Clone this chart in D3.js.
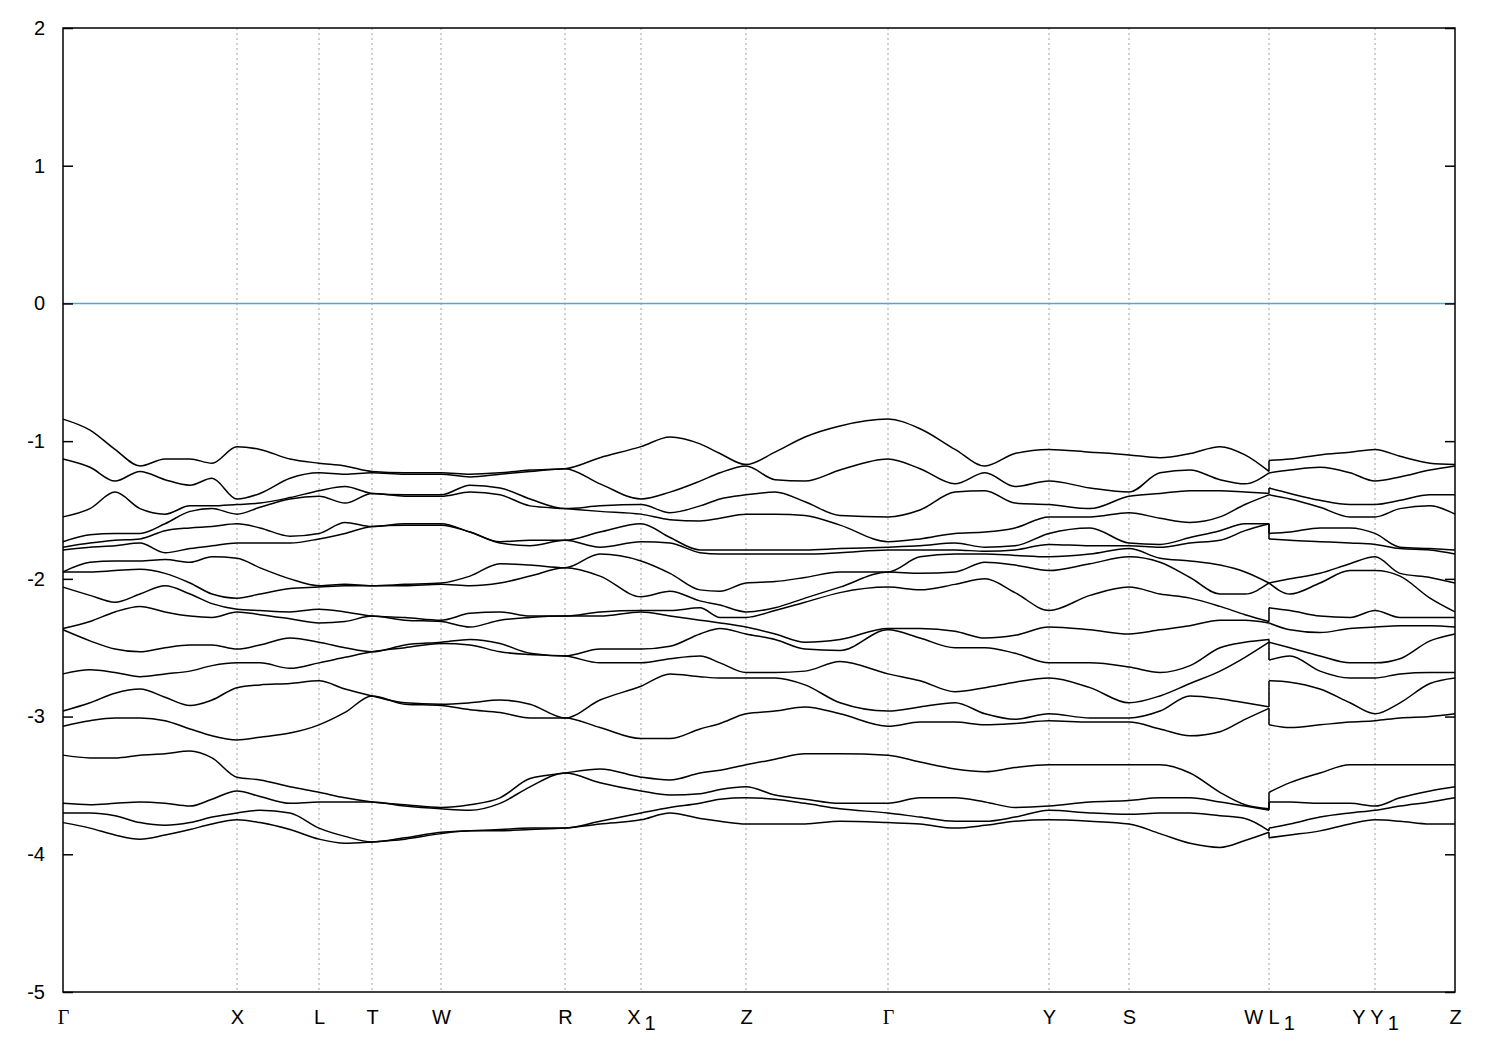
<!DOCTYPE html>
<html><head><meta charset="utf-8">
<script src="https://cdn.jsdelivr.net/npm/d3@7"></script>
<style>body{margin:0;background:#fff} svg{display:block}</style>
</head><body>
<svg id="chart" width="1500" height="1050"></svg>
<script>
// k-path coordinate of each sampled point (two entries at W|L1: discontinuity)
const kPoints = [0, 0.027, 0.052, 0.077, 0.102, 0.127, 0.149, 0.174, 0.197, 0.227, 0.256, 0.282, 0.309, 0.342, 0.378, 0.407, 0.437, 0.467, 0.502, 0.537, 0.578, 0.607, 0.637, 0.657, 0.683, 0.712, 0.742, 0.777, 0.825, 0.857, 0.892, 0.922, 0.952, 0.986, 1.027, 1.066, 1.097, 1.127, 1.157, 1.182, 1.206, 1.206, 1.227, 1.257, 1.287, 1.312, 1.337, 1.367, 1.392];

// band energies (eV), one row per k point, 18 bands per row
const levels = [
[-0.84,-1.13,-1.55,-1.73,-1.77,-1.79,-1.95,-1.95,-2.06,-2.36,-2.37,-2.69,-2.96,-3.07,-3.28,-3.63,-3.70,-3.77],
[-0.92,-1.19,-1.49,-1.68,-1.74,-1.77,-1.88,-1.95,-2.12,-2.31,-2.45,-2.66,-2.90,-3.03,-3.30,-3.64,-3.70,-3.81],
[-1.06,-1.29,-1.37,-1.67,-1.72,-1.76,-1.87,-1.94,-2.17,-2.24,-2.51,-2.68,-2.83,-3.01,-3.30,-3.63,-3.72,-3.86],
[-1.18,-1.22,-1.49,-1.67,-1.71,-1.74,-1.87,-1.93,-2.11,-2.20,-2.53,-2.71,-2.80,-3.01,-3.28,-3.62,-3.77,-3.89],
[-1.13,-1.28,-1.53,-1.60,-1.65,-1.81,-1.86,-1.96,-2.05,-2.24,-2.50,-2.69,-2.86,-3.03,-3.27,-3.63,-3.79,-3.86],
[-1.13,-1.32,-1.47,-1.51,-1.63,-1.78,-1.88,-2.03,-2.11,-2.27,-2.48,-2.67,-2.92,-3.09,-3.25,-3.65,-3.77,-3.82],
[-1.16,-1.27,-1.47,-1.49,-1.62,-1.76,-1.84,-2.11,-2.18,-2.28,-2.48,-2.63,-2.88,-3.14,-3.30,-3.60,-3.73,-3.78],
[-1.04,-1.42,-1.46,-1.53,-1.60,-1.74,-1.85,-2.14,-2.22,-2.24,-2.51,-2.61,-2.79,-3.17,-3.44,-3.54,-3.70,-3.75],
[-1.06,-1.38,-1.45,-1.48,-1.63,-1.74,-1.92,-2.11,-2.23,-2.26,-2.48,-2.61,-2.77,-3.15,-3.46,-3.58,-3.68,-3.77],
[-1.13,-1.27,-1.41,-1.42,-1.69,-1.74,-2.00,-2.07,-2.24,-2.29,-2.43,-2.65,-2.76,-3.12,-3.51,-3.63,-3.70,-3.82],
[-1.16,-1.23,-1.36,-1.40,-1.67,-1.71,-2.05,-2.06,-2.22,-2.32,-2.46,-2.61,-2.74,-3.06,-3.55,-3.62,-3.81,-3.89],
[-1.18,-1.24,-1.33,-1.45,-1.59,-1.67,-2.04,-2.05,-2.24,-2.31,-2.50,-2.57,-2.80,-2.97,-3.59,-3.62,-3.87,-3.92],
[-1.22,-1.23,-1.38,-1.38,-1.62,-1.62,-2.05,-2.05,-2.27,-2.27,-2.53,-2.53,-2.85,-2.85,-3.62,-3.62,-3.91,-3.91],
[-1.23,-1.24,-1.39,-1.40,-1.60,-1.61,-2.04,-2.05,-2.28,-2.30,-2.48,-2.50,-2.90,-2.91,-3.64,-3.65,-3.88,-3.89],
[-1.23,-1.24,-1.39,-1.40,-1.60,-1.61,-2.03,-2.04,-2.30,-2.31,-2.46,-2.47,-2.91,-2.92,-3.66,-3.67,-3.84,-3.85],
[-1.24,-1.26,-1.32,-1.37,-1.66,-1.66,-1.98,-2.05,-2.25,-2.35,-2.44,-2.48,-2.90,-2.95,-3.64,-3.68,-3.83,-3.83],
[-1.23,-1.24,-1.34,-1.39,-1.73,-1.74,-1.89,-2.03,-2.24,-2.30,-2.47,-2.53,-2.88,-2.97,-3.59,-3.63,-3.82,-3.83],
[-1.21,-1.22,-1.42,-1.47,-1.72,-1.76,-1.90,-1.98,-2.27,-2.28,-2.54,-2.55,-2.91,-3.01,-3.45,-3.51,-3.81,-3.82],
[-1.20,-1.20,-1.49,-1.49,-1.72,-1.72,-1.92,-1.92,-2.27,-2.27,-2.56,-2.56,-3.01,-3.01,-3.41,-3.41,-3.81,-3.81],
[-1.12,-1.31,-1.47,-1.51,-1.66,-1.77,-1.82,-1.98,-2.24,-2.27,-2.51,-2.61,-2.88,-3.08,-3.38,-3.48,-3.76,-3.78],
[-1.04,-1.42,-1.46,-1.53,-1.60,-1.73,-1.87,-2.13,-2.23,-2.24,-2.51,-2.61,-2.78,-3.16,-3.44,-3.54,-3.70,-3.75],
[-0.97,-1.37,-1.52,-1.57,-1.70,-1.74,-1.96,-2.09,-2.23,-2.27,-2.49,-2.58,-2.69,-3.16,-3.46,-3.57,-3.66,-3.70],
[-1.02,-1.29,-1.47,-1.58,-1.79,-1.81,-2.08,-2.16,-2.21,-2.30,-2.40,-2.56,-2.71,-3.09,-3.41,-3.56,-3.63,-3.74],
[-1.09,-1.23,-1.42,-1.56,-1.79,-1.82,-2.09,-2.19,-2.28,-2.32,-2.36,-2.61,-2.72,-3.05,-3.39,-3.53,-3.60,-3.76],
[-1.17,-1.18,-1.39,-1.53,-1.79,-1.82,-2.03,-2.24,-2.28,-2.35,-2.40,-2.68,-2.72,-2.98,-3.35,-3.51,-3.59,-3.78],
[-1.08,-1.28,-1.37,-1.53,-1.79,-1.82,-2.02,-2.21,-2.23,-2.40,-2.44,-2.68,-2.72,-2.96,-3.31,-3.57,-3.60,-3.78],
[-0.97,-1.29,-1.44,-1.54,-1.79,-1.82,-1.99,-2.14,-2.17,-2.46,-2.51,-2.67,-2.77,-2.93,-3.27,-3.60,-3.63,-3.78],
[-0.89,-1.21,-1.54,-1.61,-1.78,-1.81,-1.95,-2.06,-2.10,-2.44,-2.52,-2.60,-2.90,-2.98,-3.27,-3.63,-3.67,-3.76],
[-0.84,-1.13,-1.55,-1.73,-1.77,-1.79,-1.95,-1.95,-2.06,-2.36,-2.37,-2.69,-2.96,-3.07,-3.28,-3.63,-3.70,-3.77],
[-0.91,-1.20,-1.50,-1.71,-1.76,-1.79,-1.84,-1.96,-2.08,-2.36,-2.43,-2.74,-2.93,-3.04,-3.33,-3.59,-3.73,-3.78],
[-1.06,-1.31,-1.37,-1.67,-1.74,-1.79,-1.82,-1.95,-2.04,-2.38,-2.50,-2.82,-2.90,-3.04,-3.38,-3.59,-3.76,-3.81],
[-1.18,-1.23,-1.36,-1.66,-1.77,-1.80,-1.82,-1.88,-2.00,-2.43,-2.50,-2.79,-2.98,-3.06,-3.40,-3.62,-3.76,-3.79],
[-1.09,-1.33,-1.45,-1.63,-1.76,-1.79,-1.83,-1.90,-2.10,-2.41,-2.54,-2.75,-3.02,-3.05,-3.37,-3.66,-3.73,-3.76],
[-1.06,-1.29,-1.46,-1.55,-1.67,-1.75,-1.84,-1.94,-2.23,-2.35,-2.61,-2.72,-2.98,-3.03,-3.35,-3.65,-3.68,-3.75],
[-1.08,-1.34,-1.49,-1.55,-1.63,-1.76,-1.82,-1.89,-2.12,-2.37,-2.61,-2.79,-3.01,-3.04,-3.35,-3.62,-3.70,-3.76],
[-1.10,-1.37,-1.40,-1.52,-1.74,-1.76,-1.78,-1.84,-2.06,-2.40,-2.64,-2.90,-3.01,-3.04,-3.35,-3.61,-3.71,-3.78],
[-1.12,-1.23,-1.38,-1.56,-1.75,-1.77,-1.85,-1.88,-2.11,-2.37,-2.68,-2.85,-2.96,-3.09,-3.35,-3.59,-3.70,-3.85],
[-1.09,-1.21,-1.36,-1.59,-1.70,-1.74,-1.87,-1.99,-2.14,-2.34,-2.63,-2.76,-2.85,-3.14,-3.41,-3.59,-3.70,-3.92],
[-1.04,-1.28,-1.36,-1.55,-1.65,-1.72,-1.90,-2.11,-2.20,-2.30,-2.50,-2.67,-2.87,-3.11,-3.55,-3.62,-3.72,-3.95],
[-1.10,-1.31,-1.37,-1.46,-1.60,-1.65,-1.95,-2.11,-2.26,-2.30,-2.46,-2.57,-2.90,-3.02,-3.64,-3.65,-3.74,-3.90],
[-1.22,-1.23,-1.38,-1.39,-1.60,-1.60,-2.03,-2.03,-2.31,-2.32,-2.44,-2.46,-2.93,-2.94,-3.67,-3.68,-3.83,-3.84],
[-1.14,-1.23,-1.34,-1.39,-1.67,-1.71,-2.03,-2.03,-2.21,-2.32,-2.46,-2.59,-2.74,-3.06,-3.55,-3.62,-3.81,-3.88],
[-1.13,-1.21,-1.38,-1.42,-1.66,-1.72,-2.00,-2.11,-2.23,-2.37,-2.50,-2.56,-2.75,-3.08,-3.48,-3.62,-3.78,-3.86],
[-1.10,-1.19,-1.43,-1.48,-1.63,-1.73,-1.96,-2.03,-2.27,-2.39,-2.56,-2.67,-2.80,-3.06,-3.41,-3.63,-3.73,-3.83],
[-1.08,-1.23,-1.46,-1.55,-1.63,-1.74,-1.89,-1.94,-2.28,-2.36,-2.61,-2.72,-2.90,-3.04,-3.35,-3.63,-3.70,-3.78],
[-1.06,-1.29,-1.46,-1.55,-1.67,-1.75,-1.84,-1.94,-2.23,-2.35,-2.61,-2.72,-2.98,-3.03,-3.35,-3.65,-3.68,-3.75],
[-1.11,-1.26,-1.43,-1.49,-1.77,-1.78,-1.96,-1.98,-2.28,-2.34,-2.58,-2.69,-2.90,-3.01,-3.35,-3.59,-3.65,-3.76],
[-1.16,-1.21,-1.39,-1.47,-1.78,-1.79,-1.99,-2.14,-2.28,-2.34,-2.45,-2.68,-2.76,-3.00,-3.35,-3.54,-3.62,-3.78],
[-1.17,-1.18,-1.39,-1.53,-1.79,-1.82,-2.03,-2.24,-2.28,-2.35,-2.40,-2.68,-2.72,-2.98,-3.35,-3.51,-3.59,-3.78]
];

const tickK = [0, 0.174, 0.256, 0.309, 0.378, 0.502, 0.578, 0.683, 0.825, 0.986, 1.066, 1.206, 1.312, 1.392];
const tickNames = ["Γ", "X", "L", "T", "W", "R", "X", "Z", "Γ", "Y", "S", "W L", "Y Y", "Z"];
const tickSubs  = ["", "", "", "", "", "", "1", "", "", "", "", "1", "1", ""];
const yTickValues = [2, 1, 0, -1, -2, -3, -4, -5];
const fermiLevel = 0;
const jumpIndex = 41; // first sample after the W|L1 break

const svg = d3.select("#chart");
const x = d3.scaleLinear().domain([0, 1.392]).range([63, 1455]);
const y = d3.scaleLinear().domain([-5, 2]).range([992, 28]);
const sans = "'Liberation Sans', Arial, Helvetica, sans-serif";

// dashed high-symmetry lines
svg.append("g").selectAll("line")
  .data(tickK.slice(1, -1)).join("line")
  .attr("x1", d => x(d)).attr("x2", d => x(d))
  .attr("y1", y(2)).attr("y2", y(-5))
  .attr("stroke", "#a0a0a0").attr("stroke-width", 1)
  .attr("stroke-dasharray", "2,3");

// Fermi level
svg.append("line")
  .attr("x1", x(0)).attr("x2", x(1.392))
  .attr("y1", y(fermiLevel)).attr("y2", y(fermiLevel))
  .attr("stroke", "#4aa8e0").attr("stroke-width", 1.5);

// bands
const nBands = levels[0].length;
const smooth = d3.line().x(d => x(d[0])).y(d => y(d[1])).curve(d3.curveMonotoneX);
const straight = d3.line().x(d => x(d[0])).y(d => y(d[1]));
const bandG = svg.append("g").attr("fill", "none").attr("stroke", "#000").attr("stroke-width", 1.5);
for (let b = 0; b < nBands; b++) {
  const pts = kPoints.map((k, i) => [k, levels[i][b]]);
  bandG.append("path").attr("d", smooth(pts.slice(0, jumpIndex)));
  bandG.append("path").attr("d", straight(pts.slice(jumpIndex - 1, jumpIndex + 1)));
  bandG.append("path").attr("d", smooth(pts.slice(jumpIndex)));
}

// frame
svg.append("rect").attr("x", x(0)).attr("y", y(2))
  .attr("width", x(1.392) - x(0)).attr("height", y(-5) - y(2))
  .attr("fill", "none").attr("stroke", "#000").attr("stroke-width", 1.5);

// y axes (inner ticks, mirrored)
const yAxis = svg.append("g").attr("transform", `translate(${x(0)},0)`)
  .call(d3.axisLeft(y).tickValues(yTickValues).tickSize(-10).tickPadding(18).tickFormat(d => String(d)));
yAxis.select(".domain").remove();
yAxis.selectAll(".tick line").attr("stroke-width", 1.5);
yAxis.selectAll(".tick text").attr("font-size", 20).attr("font-family", sans).attr("fill", "#000");

const yAxisR = svg.append("g").attr("transform", `translate(${x(1.392)},0)`)
  .call(d3.axisRight(y).tickValues(yTickValues).tickSize(-10).tickFormat(""));
yAxisR.select(".domain").remove();
yAxisR.selectAll(".tick line").attr("stroke-width", 1.5);

// x axis labels
const xAxis = svg.append("g").attr("transform", `translate(0,${y(-5)})`)
  .call(d3.axisBottom(x).tickValues(tickK).tickSize(0).tickPadding(18).tickFormat(""));
xAxis.select(".domain").remove();
xAxis.selectAll(".tick text").each(function(d, i) {
  const t = d3.select(this);
  t.text(null).attr("font-size", 20).attr("fill", "#000")
   .attr("font-family", tickNames[i] === "Γ" ? "'Liberation Serif', 'Times New Roman', serif" : sans);
  t.append("tspan").text(tickNames[i]);
  if (tickSubs[i]) t.append("tspan").attr("dx", 4).attr("dy", 6).text(tickSubs[i]);
});
</script>
</body></html>
